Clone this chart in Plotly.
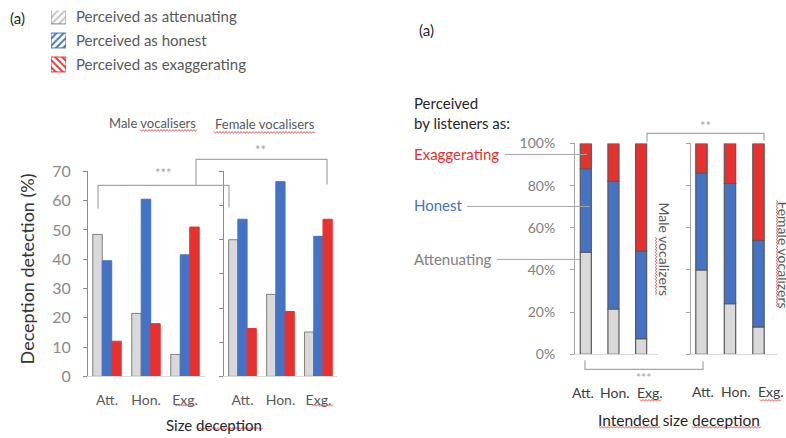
import plotly.graph_objects as go
import numpy as np

# ---------------- data ----------------
categories = ["Att.", "Hon.", "Exg."]
male_attenuating = [48.5, 21.5, 7.5]
male_honest = [39.5, 60.5, 41.5]
male_exaggerating = [12, 18, 51]
female_attenuating = [40, 24, 13]
female_honest = [46, 57, 41]
female_exaggerating = [14, 19, 46]
left_male_ticks = [0, 10, 20, 30, 40, 50, 60, 70]
left_female_ticks = [0, 10, 20, 30, 40, 50, 60]
right_ticks = [0, 20, 40, 60, 80, 100]
right_tick_labels = ["0%", "20%", "40%", "60%", "80%", "100%"]
legend_names = ["Perceived as attenuating", "Perceived as honest", "Perceived as exaggerating"]
legend_swatch = [1, 1, 1]

# ---------------- style ----------------
W, H = 786, 438
FONT = "Lato"
GRAY_FILL = "#d9d9d9"
BLUE = "#4472c4"
RED = "#e8312f"
TXT_GRAY = "#595959"
TICK_GRAY = "#8a8a8a"
BRACKET = "#a6a6a6"

# empirical vertical mapping of the photographed page (screen = SC*page + OFF)
SC, OFF = 0.957, 9.5


def X(px):
    return px / W


def Y(py):
    return 1 - ((py - OFF) / SC) / H


fig = go.Figure()

# ----- left chart: grouped bars (overlay with explicit offsets) -----
bw = 0.243
left_specs = [
    (male_attenuating, male_honest, male_exaggerating, "x", "y"),
    (female_attenuating, female_honest, female_exaggerating, "x2", "y2"),
]
for att, hon, exg, xa, ya in left_specs:
    for vals, col, off, lc in [
        (att, GRAY_FILL, -1.5 * bw, "#7f7f7f"),
        (hon, BLUE, -0.5 * bw, BLUE),
        (exg, RED, 0.5 * bw, RED),
    ]:
        fig.add_trace(go.Bar(
            x=categories, y=vals, width=bw, offset=off,
            marker=dict(color=col, line=dict(color=lc, width=1)),
            xaxis=xa, yaxis=ya, showlegend=False, hoverinfo="skip",
        ))

# ----- right chart: stacked bars (base from cumulative sums) -----
right_specs = [
    (male_attenuating, male_honest, male_exaggerating, "x3", "y3"),
    (female_attenuating, female_honest, female_exaggerating, "x4", "y4"),
]
for att, hon, exg, xa, ya in right_specs:
    att_a = np.array(att, dtype=float)
    hon_a = np.array(hon, dtype=float)
    exg_a = np.array(exg, dtype=float)
    for vals, base, col in [
        (att_a, np.zeros(3), GRAY_FILL),
        (hon_a, att_a, BLUE),
        (exg_a, att_a + hon_a, RED),
    ]:
        fig.add_trace(go.Bar(
            x=categories, y=vals, base=base, width=0.4,
            marker=dict(color=col, line=dict(color="#595959", width=1.2)),
            xaxis=xa, yaxis=ya, showlegend=False, hoverinfo="skip",
        ))

# ----- key: hatched swatches drawn as bars on their own small axis -----
fig.add_trace(go.Bar(
    x=legend_swatch, y=legend_names, orientation="h", width=0.62,
    marker=dict(
        color="white",
        line=dict(color=["#8c8c8c", BLUE, RED], width=1),
        pattern=dict(shape=["/", "/", "\\"], fgcolor=["#c4c4c4", BLUE, RED],
                     bgcolor="white", size=5, solidity=0.4, fillmode="replace"),
    ),
    xaxis="x5", yaxis="y5", showlegend=False, hoverinfo="skip",
))

# ----- axes -----
common_x = dict(showline=True, linecolor="#d9d9d9",
                linewidth=1, ticks="", showgrid=False, zeroline=False,
                fixedrange=True)
common_y = dict(showline=True, linewidth=1, ticks="outside", ticklen=4,
                showgrid=False, zeroline=False, fixedrange=True)

left_ydom = [Y(376), Y(171)]
right_ydom = [Y(354), Y(143)]
# key rows at screen y 16, 40, 64 (24 px apart); domain from the page top to 76
key_top = OFF + 0.5
key_range_top = -(16 - key_top) / 24.0

fig.update_layout(
    xaxis=dict(domain=[X(88), X(205)], anchor="y", range=[-0.487, 2.513],
               tickfont=dict(family=FONT, size=14, color=TXT_GRAY),
               ticklabelstandoff=11, **common_x),
    yaxis=dict(domain=left_ydom, anchor="x", range=[0, 70],
               tickvals=left_male_ticks, linecolor="#8c8c8c", tickcolor="#8c8c8c",
               tickfont=dict(family=FONT, size=16, color=TICK_GRAY),
               ticklabelstandoff=9, **common_y),
    xaxis2=dict(domain=[X(224), X(337)], anchor="y2", range=[-0.487, 2.49],
                tickfont=dict(family=FONT, size=14, color=TXT_GRAY),
                ticklabelstandoff=11, **common_x),
    yaxis2=dict(domain=left_ydom, anchor="x2", range=[0, 60],
                tickvals=left_female_ticks, linecolor="#8c8c8c", tickcolor="#8c8c8c",
                showticklabels=False, **common_y),
    xaxis3=dict(domain=[X(575), X(658)], anchor="y3", range=[-0.39, 2.61],
                showticklabels=False, **common_x),
    yaxis3=dict(domain=right_ydom, anchor="x3", range=[0, 100],
                tickvals=right_ticks, ticktext=right_tick_labels,
                linecolor="#a6a6a6", tickcolor="#a6a6a6",
                tickfont=dict(family=FONT, size=14, color="#808080"),
                ticklabelstandoff=12, **common_y),
    xaxis4=dict(domain=[X(691), X(777)], anchor="y4", range=[-0.368, 2.65],
                showticklabels=False, **common_x),
    yaxis4=dict(domain=right_ydom, anchor="x4", range=[0, 100],
                tickvals=right_ticks, linecolor="#a6a6a6", tickcolor="#a6a6a6",
                showticklabels=False, **common_y),
    xaxis5=dict(domain=[X(51), X(66)], anchor="y5", range=[0, 1], visible=False,
                fixedrange=True),
    yaxis5=dict(domain=[Y(76), min(1.0, Y(key_top))], anchor="x5",
                range=[2.5, key_range_top], side="right", showline=False,
                ticks="", showgrid=False, zeroline=False, fixedrange=True,
                ticklabelstandoff=9,
                tickfont=dict(family=FONT, size=15, color=TXT_GRAY)),
)

# ----- annotations -----
ann = []


def text(t, px, py, size, color, xanchor="center", angle=0):
    ann.append(dict(text=t, x=X(px), y=Y(py), xref="paper", yref="paper",
                    showarrow=False, xanchor=xanchor, yanchor="middle",
                    textangle=angle,
                    font=dict(family=FONT, size=size, color=color)))


text("(a)", 8, 18, 15, "#262626", "left")
text("(a)", 417, 30, 15, "#262626", "left")
text("Male vocalisers", 152, 123, 13, TXT_GRAY)
text("Female vocalisers", 265, 124, 13, TXT_GRAY)
text("Deception detection (%)", 27, 269, 18, "#333333", angle=-90)
text("Size deception", 214, 425, 15, "#262626")
text("***", 163, 173, 13, BRACKET)
text("**", 260, 150, 13, BRACKET)

text("Perceived", 412, 103, 15, "#262626", "left")
text("by listeners as:", 412, 123, 15, "#262626", "left")
text("Exaggerating", 412, 154, 15, RED, "left")
text("Honest", 412, 205, 15, BLUE, "left")
text("Attenuating", 412, 259, 15, "#7f7f7f", "left")
text("Male vocalizers", 665, 249, 14, TXT_GRAY, angle=90)
text("Female vocalizers", 784, 254, 14, TXT_GRAY, angle=90)
text("**", 705, 126, 13, BRACKET)
text("***", 643, 377, 12, BRACKET)
text("Intended size deception", 679, 420, 15.5, "#262626")

# right-chart category labels (spaced wider than the bars, as in the original)
for cat, px in zip(categories, [583, 615, 650]):
    text(cat, px, 392, 14, "#404040")
for cat, px in zip(categories, [703, 736, 771]):
    text(cat, px, 391, 14, "#404040")

# ----- shapes: brackets, leader lines, spell-check squiggles -----
shapes = []


def poly(points, color, width=1.2):
    d = "M" + " L".join(f"{X(px):.5f},{Y(py):.5f}" for px, py in points)
    shapes.append(dict(type="path", path=d, xref="paper", yref="paper",
                       line=dict(color=color, width=width)))


poly([(98, 208), (98, 185), (229, 185), (229, 207)], BRACKET)
poly([(196, 185), (196, 159), (327, 159), (327, 184)], BRACKET)
poly([(647, 141), (647, 133), (764, 133), (764, 140)], BRACKET)
poly([(585, 360), (585, 369), (703, 369), (703, 361)], BRACKET)

poly([(505, 154), (587, 154)], BRACKET, 1)
poly([(467, 206), (590, 206)], BRACKET, 1)
poly([(497, 259), (580, 259)], BRACKET, 1)


def squiggle(a0, a1, c, vertical=False):
    pts = []
    n = int((a1 - a0) / 1.5)
    for k in range(n + 1):
        a = a0 + k * 1.5
        off = 0.9 if k % 2 else -0.9
        pts.append((c + off, a) if vertical else (a, c + off))
    poly(pts, "#e05555", 0.9)


squiggle(140, 197, 130)
squiggle(214, 315, 132)
squiggle(175, 195, 405)
squiggle(312, 333, 405)
squiggle(197, 263, 428)
squiggle(640, 662, 400)
squiggle(760, 782, 400)
squiggle(599, 661, 427)
squiggle(692, 761, 427)
squiggle(237, 295, 656, vertical=True)
squiggle(200, 307, 777, vertical=True)

fig.update_layout(
    annotations=ann, shapes=shapes,
    width=W, height=H, autosize=False,
    margin=dict(l=0, r=0, t=0, b=0),
    paper_bgcolor="white", plot_bgcolor="white",
    barmode="overlay",
    font=dict(family=FONT, color=TXT_GRAY),
    showlegend=False,
)

fig.write_html(
    "out.html",
    config={"displayModeBar": False},
    post_script="document.body.style.margin='0';document.body.style.overflow='hidden';",
)
